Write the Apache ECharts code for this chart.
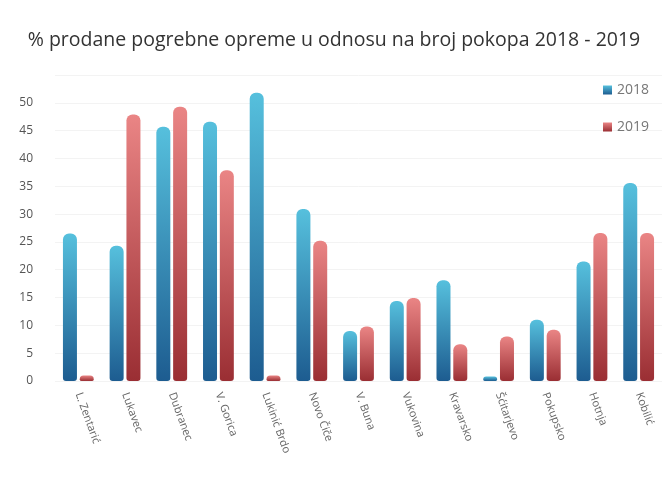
<!DOCTYPE html>
<html><head><meta charset="utf-8">
<script src="https://cdn.jsdelivr.net/npm/echarts@6/dist/echarts.min.js"></script>
<style>html,body{margin:0;padding:0;background:#fff}#c{width:668px;height:487px}</style>
</head><body><div id="c"></div>
<script>
const categories = ["L. Zentarić","Lukavec","Dubranec","V. Gorica","Lukinić Brdo","Novo Čiče","V. Buna","Vukovina","Kravarsko","Šćitarjevo","Pokupsko","Hotnja","Kobilić"];
const values2018 = [26.5,24.3,45.7,46.6,51.8,30.9,9.0,14.4,18.1,0.8,11.0,21.5,35.6];
const values2019 = [1.0,47.9,49.3,37.9,1.0,25.2,9.8,14.9,6.6,8.0,9.2,26.6,26.6];
const yTicks = [0,5,10,15,20,25,30,35,40,45,50];

const chart = echarts.init(document.getElementById('c'));
function grad(top, bottom){
  return new echarts.graphic.LinearGradient(0,0,0,1,[{offset:0,color:top},{offset:1,color:bottom}]);
}
chart.setOption({
  animation:false,
  title:{text:'% prodane pogrebne opreme u odnosu na broj pokopa 2018 - 2019',left:'center',top:25,
    textStyle:{fontFamily:'Open Sans',fontSize:19.5,fontWeight:'normal',color:'#333'}},
  legend:{orient:'vertical',right:14,top:78,itemGap:23,itemWidth:9,itemHeight:9,icon:'rect',
    textStyle:{fontFamily:'Open Sans',fontSize:14,color:'#777'}},
  grid:{left:55,right:6,top:75,bottom:106},
  xAxis:{type:'category',data:categories,
    axisLine:{show:false},axisTick:{show:false},
    axisLabel:{rotate:-70,interval:0,fontFamily:'Open Sans',fontSize:11,color:'#666',margin:12}},
  yAxis:{type:'value',min:0,max:55,interval:5,
    axisLine:{show:false},axisTick:{show:false},
    splitLine:{show:true,lineStyle:{color:'#f3f3f3'}},
    axisLabel:{fontFamily:'Open Sans',fontSize:12,color:'#555',margin:22,
      formatter:v=>yTicks.indexOf(v)>=0?String(v):''}},
  series:[
    {name:'2018',type:'bar',data:values2018,barWidth:14,barGap:'20%',
      itemStyle:{color:grad('#56c0dd','#1d5c90'),borderRadius:[6,6,3,3]}},
    {name:'2019',type:'bar',data:values2019,barWidth:14,
      itemStyle:{color:grad('#ea8585','#9a2e33'),borderRadius:[6,6,3,3]}}
  ]
});
</script></body></html>
